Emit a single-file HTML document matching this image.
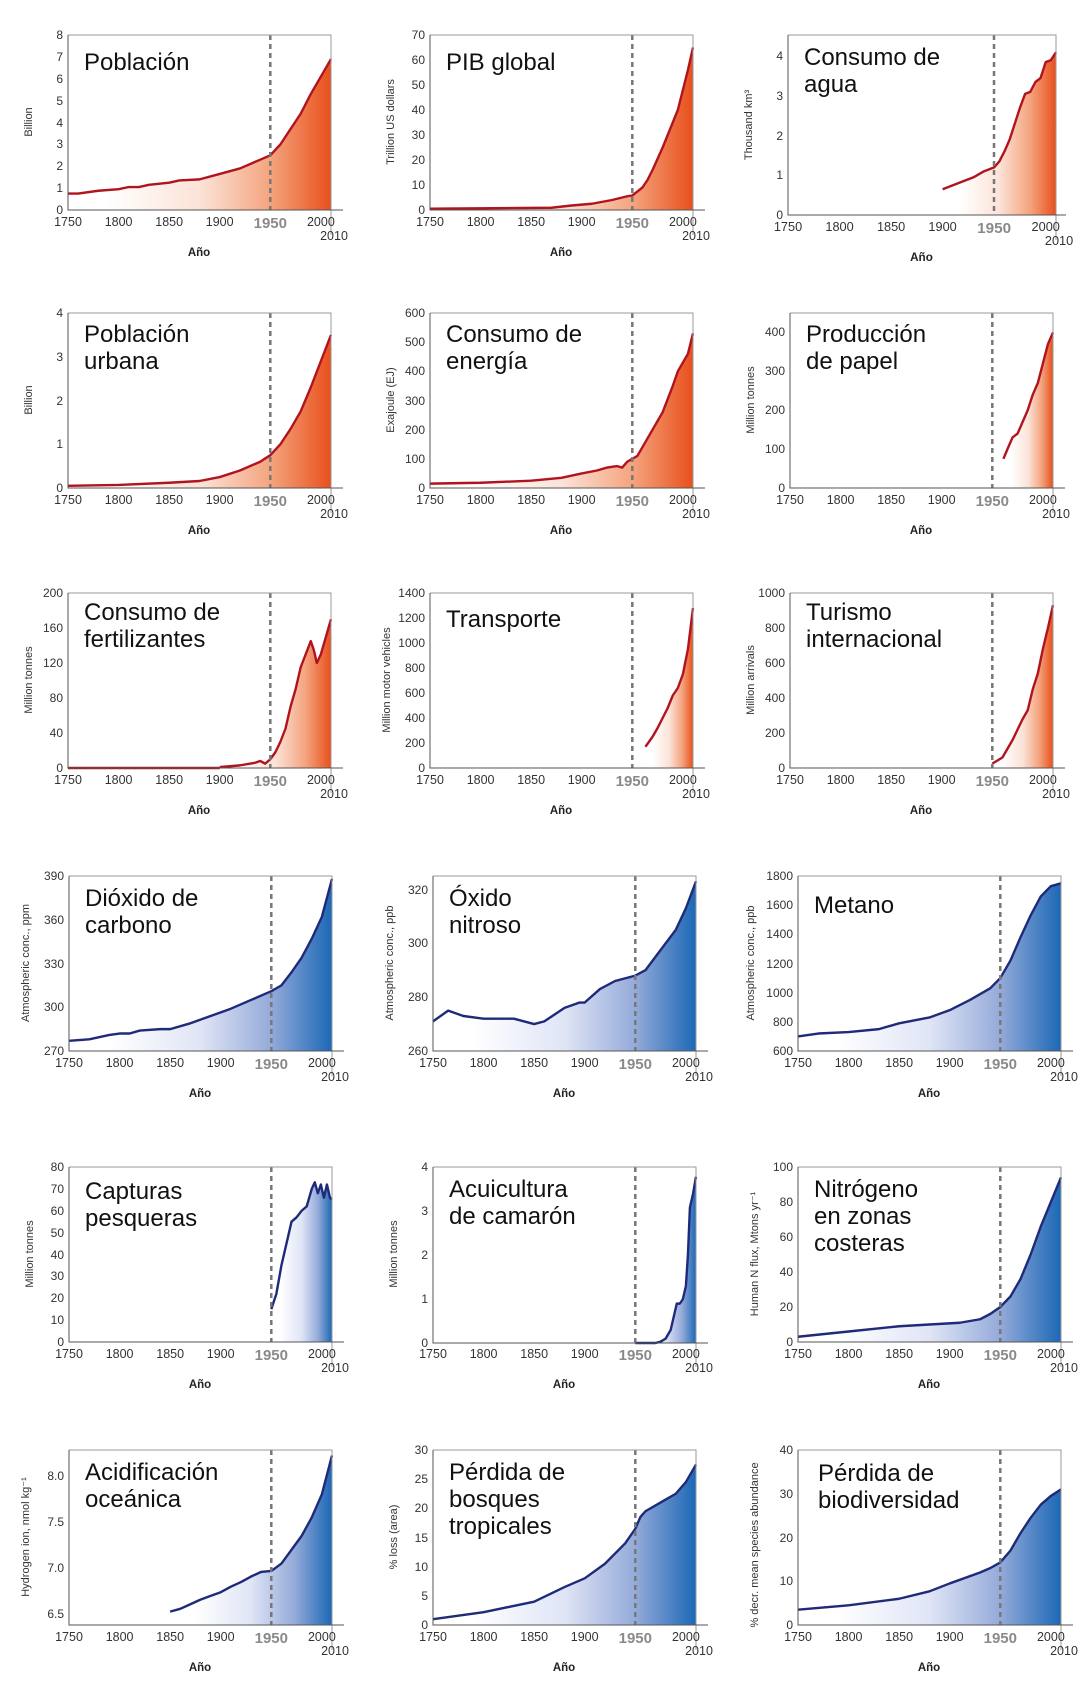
<!DOCTYPE html>
<html><head><meta charset="utf-8"><style>
html,body{margin:0;padding:0;background:#fff}
svg{display:block;font-family:"Liberation Sans",sans-serif}
.yl{font-size:12px;fill:#333;text-anchor:end}
.xl{font-size:12.5px;fill:#333;text-anchor:middle}
.x50{font-size:15px;font-weight:bold;fill:#8a8a8a;text-anchor:middle}
.ano{font-size:11.5px;font-weight:bold;fill:#222;text-anchor:middle}
.yt{font-size:11px;fill:#333;text-anchor:middle}
.ti{font-size:24px;fill:#111}
.lr{fill:none;stroke:#b0141e;stroke-width:2.4;vector-effect:non-scaling-stroke;stroke-linejoin:round}
.lb{fill:none;stroke:#1f2a78;stroke-width:2.4;vector-effect:non-scaling-stroke;stroke-linejoin:round}
.dash{stroke:#777;stroke-width:2.5;stroke-dasharray:5,4}
.ax{fill:none;stroke:#555;stroke-width:1}
.fr{fill:none;stroke:#999;stroke-width:1}
</style></head><body>
<svg width="1091" height="1690" viewBox="0 0 1091 1690" xmlns="http://www.w3.org/2000/svg">
<defs>
<linearGradient id="r" x1="0" y1="0" x2="1" y2="0">
<stop offset="0.15" stop-color="#fff"/><stop offset="0.5" stop-color="#fbe3d8"/><stop offset="0.77" stop-color="#f4a47e"/><stop offset="1" stop-color="#e8501c"/></linearGradient>
<linearGradient id="b" x1="0" y1="0" x2="1" y2="0">
<stop offset="0.15" stop-color="#fff"/><stop offset="0.5" stop-color="#e0e5f6"/><stop offset="0.77" stop-color="#94aad9"/><stop offset="1" stop-color="#1c68b6"/></linearGradient>
<g id="xt">
<text class="xl" x="0" y="191">1750</text><text class="xl" x="50.6" y="191">1800</text><text class="xl" x="101.2" y="191">1850</text><text class="xl" x="151.7" y="191">1900</text><text class="x50" x="202.3" y="193">1950</text><text class="xl" x="252.9" y="191">2000</text><text class="xl" x="266" y="205">2010</text><text class="ano" x="131" y="221">Año</text>
</g>
</defs>

<!-- P1 Poblacion -->
<g transform="translate(68,35)">
<g transform="translate(0,175) scale(1.0115,-21.875)">
<path fill="url(#r)" d="M0,0 L0,.75 10,.75 30,.88 50,.95 60,1.05 70,1.05 80,1.15 100,1.25 110,1.35 130,1.4 150,1.65 170,1.9 190,2.3 200,2.5 210,3 220,3.7 230,4.4 240,5.3 260,6.9 L260,0Z"/>
<path class="lr" d="M0,.75 10,.75 30,.88 50,.95 60,1.05 70,1.05 80,1.15 100,1.25 110,1.35 130,1.4 150,1.65 170,1.9 190,2.3 200,2.5 210,3 220,3.7 230,4.4 240,5.3 260,6.9"/></g>
<line class="dash" x1="202.3" y1="0" x2="202.3" y2="175"/>
<path class="fr" d="M0,0H263V200"/><path class="ax" d="M0,0V175H275"/>
<text class="yl" x="-5" y="179">0</text><text class="yl" x="-5" y="157">1</text><text class="yl" x="-5" y="135">2</text><text class="yl" x="-5" y="113">3</text><text class="yl" x="-5" y="92">4</text><text class="yl" x="-5" y="70">5</text><text class="yl" x="-5" y="48">6</text><text class="yl" x="-5" y="26">7</text><text class="yl" x="-5" y="4">8</text>
<use href="#xt"/>
<text class="yt" transform="translate(-36,87) rotate(-90)">Billion</text>
<text class="ti" x="16" y="35">Población</text>
</g>

<!-- P2 PIB -->
<g transform="translate(430,35)">
<g transform="translate(0,175) scale(1.0115,-2.5)">
<path fill="url(#r)" d="M0,0 L0,.5 120,.9 140,1.8 160,2.5 180,4 195,5.5 200,5.8 210,9 215,12 220,16 230,25 240,35 245,40 250,48 255,56 260,65 L260,0Z"/>
<path class="lr" d="M0,.5 120,.9 140,1.8 160,2.5 180,4 195,5.5 200,5.8 210,9 215,12 220,16 230,25 240,35 245,40 250,48 255,56 260,65"/></g>
<line class="dash" x1="202.3" y1="0" x2="202.3" y2="175"/>
<path class="fr" d="M0,0H263V200"/><path class="ax" d="M0,0V175H275"/>
<text class="yl" x="-5" y="179">0</text><text class="yl" x="-5" y="154">10</text><text class="yl" x="-5" y="129">20</text><text class="yl" x="-5" y="104">30</text><text class="yl" x="-5" y="79">40</text><text class="yl" x="-5" y="54">50</text><text class="yl" x="-5" y="29">60</text><text class="yl" x="-5" y="4">70</text>
<use href="#xt"/>
<text class="yt" transform="translate(-36,87) rotate(-90)">Trillion US dollars</text>
<text class="ti" x="16" y="35">PIB global</text>
</g>

<!-- P3 Agua -->
<g transform="translate(788,35)">
<g transform="translate(0,180) scale(1.0308,-39.7)">
<path fill="url(#r)" d="M150,0 L150,.65 160,.75 170,.85 180,.95 190,1.1 200,1.2 205,1.35 210,1.6 215,1.9 220,2.3 225,2.7 230,3.05 235,3.1 240,3.35 245,3.45 250,3.85 255,3.9 260,4.1 L260,0Z"/>
<path class="lr" d="M150,.65 160,.75 170,.85 180,.95 190,1.1 200,1.2 205,1.35 210,1.6 215,1.9 220,2.3 225,2.7 230,3.05 235,3.1 240,3.35 245,3.45 250,3.85 255,3.9 260,4.1"/></g>
<line class="dash" x1="206" y1="0" x2="206" y2="180"/>
<path class="fr" d="M0,0H268V205"/><path class="ax" d="M0,0V180H278"/>
<text class="yl" x="-5" y="184">0</text><text class="yl" x="-5" y="144">1</text><text class="yl" x="-5" y="105">2</text><text class="yl" x="-5" y="65">3</text><text class="yl" x="-5" y="25">4</text>
<g transform="scale(1.019,1) translate(0,5)"><use href="#xt"/></g>
<text class="yt" transform="translate(-36,90) rotate(-90)">Thousand km³</text>
<text class="ti" x="16" y="30">Consumo de</text><text class="ti" x="16" y="57">agua</text>
</g>

<!-- P4 Urbana -->
<g transform="translate(68,313)">
<g transform="translate(0,175) scale(1.0115,-43.75)">
<path fill="url(#r)" d="M0,0 L0,.05 50,.07 100,.12 130,.16 150,.25 170,.4 190,.6 200,.75 210,1 220,1.35 230,1.75 240,2.3 250,2.9 260,3.5 L260,0Z"/>
<path class="lr" d="M0,.05 50,.07 100,.12 130,.16 150,.25 170,.4 190,.6 200,.75 210,1 220,1.35 230,1.75 240,2.3 250,2.9 260,3.5"/></g>
<line class="dash" x1="202.3" y1="0" x2="202.3" y2="175"/>
<path class="fr" d="M0,0H263V200"/><path class="ax" d="M0,0V175H275"/>
<text class="yl" x="-5" y="179">0</text><text class="yl" x="-5" y="135">1</text><text class="yl" x="-5" y="92">2</text><text class="yl" x="-5" y="48">3</text><text class="yl" x="-5" y="4">4</text>
<use href="#xt"/>
<text class="yt" transform="translate(-36,87) rotate(-90)">Billion</text>
<text class="ti" x="16" y="29">Población</text><text class="ti" x="16" y="56">urbana</text>
</g>

<!-- P5 Energia -->
<g transform="translate(430,313)">
<g transform="translate(0,175) scale(1.0115,-0.29167)">
<path fill="url(#r)" d="M0,0 L0,15 50,18 100,25 130,35 150,50 165,60 175,70 185,75 190,70 195,90 200,100 205,110 210,140 220,200 230,260 240,350 245,400 250,430 255,460 260,530 L260,0Z"/>
<path class="lr" d="M0,15 50,18 100,25 130,35 150,50 165,60 175,70 185,75 190,70 195,90 200,100 205,110 210,140 220,200 230,260 240,350 245,400 250,430 255,460 260,530"/></g>
<line class="dash" x1="202.3" y1="0" x2="202.3" y2="175"/>
<path class="fr" d="M0,0H263V200"/><path class="ax" d="M0,0V175H275"/>
<text class="yl" x="-5" y="179">0</text><text class="yl" x="-5" y="150">100</text><text class="yl" x="-5" y="121">200</text><text class="yl" x="-5" y="92">300</text><text class="yl" x="-5" y="62">400</text><text class="yl" x="-5" y="33">500</text><text class="yl" x="-5" y="4">600</text>
<use href="#xt"/>
<text class="yt" transform="translate(-36,87) rotate(-90)">Exajoule (EJ)</text>
<text class="ti" x="16" y="29">Consumo de</text><text class="ti" x="16" y="56">energía</text>
</g>

<!-- P6 Papel -->
<g transform="translate(790,313)">
<g transform="translate(0,175) scale(1.0115,-0.38889)">
<path fill="url(#r)" d="M211,0 L211,75 215,100 220,130 225,140 230,170 235,200 240,240 245,270 250,320 255,370 260,400 L260,0Z"/>
<path class="lr" d="M211,75 215,100 220,130 225,140 230,170 235,200 240,240 245,270 250,320 255,370 260,400"/></g>
<line class="dash" x1="202.3" y1="0" x2="202.3" y2="175"/>
<path class="fr" d="M0,0H263V200"/><path class="ax" d="M0,0V175H275"/>
<text class="yl" x="-5" y="179">0</text><text class="yl" x="-5" y="140">100</text><text class="yl" x="-5" y="101">200</text><text class="yl" x="-5" y="62">300</text><text class="yl" x="-5" y="23">400</text>
<use href="#xt"/>
<text class="yt" transform="translate(-36,87) rotate(-90)">Million tonnes</text>
<text class="ti" x="16" y="29">Producción</text><text class="ti" x="16" y="56">de papel</text>
</g>

<!-- P7 Fertilizantes -->
<g transform="translate(68,593)">
<g transform="translate(0,175) scale(1.0115,-0.875)">
<path fill="url(#r)" d="M150,0 L150,1 170,3 185,6 190,8 195,5 200,10 205,18 210,30 215,45 220,70 225,90 230,115 235,130 240,145 243,135 246,120 250,130 255,150 260,170 L260,0Z"/>
<path class="lr" d="M150,1 170,3 185,6 190,8 195,5 200,10 205,18 210,30 215,45 220,70 225,90 230,115 235,130 240,145 243,135 246,120 250,130 255,150 260,170"/>
<path class="lr" d="M0,0 150,0"/></g>
<line class="dash" x1="202.3" y1="0" x2="202.3" y2="175"/>
<path class="fr" d="M0,0H263V200"/><path class="ax" d="M0,0V175H275"/>
<text class="yl" x="-5" y="179">0</text><text class="yl" x="-5" y="144">40</text><text class="yl" x="-5" y="109">80</text><text class="yl" x="-5" y="74">120</text><text class="yl" x="-5" y="39">160</text><text class="yl" x="-5" y="4">200</text>
<use href="#xt"/>
<text class="yt" transform="translate(-36,87) rotate(-90)">Million tonnes</text>
<text class="ti" x="16" y="27">Consumo de</text><text class="ti" x="16" y="54">fertilizantes</text>
</g>

<!-- P8 Transporte -->
<g transform="translate(430,593)">
<g transform="translate(0,175) scale(1.0115,-0.125)">
<path fill="url(#r)" d="M213,0 L213,170 220,250 225,320 230,400 235,480 240,580 245,640 250,750 255,950 260,1280 L260,0Z"/>
<path class="lr" d="M213,170 220,250 225,320 230,400 235,480 240,580 245,640 250,750 255,950 260,1280"/></g>
<line class="dash" x1="202.3" y1="0" x2="202.3" y2="175"/>
<path class="fr" d="M0,0H263V200"/><path class="ax" d="M0,0V175H275"/>
<text class="yl" x="-5" y="179">0</text><text class="yl" x="-5" y="154">200</text><text class="yl" x="-5" y="129">400</text><text class="yl" x="-5" y="104">600</text><text class="yl" x="-5" y="79">800</text><text class="yl" x="-5" y="54">1000</text><text class="yl" x="-5" y="29">1200</text><text class="yl" x="-5" y="4">1400</text>
<use href="#xt"/>
<text class="yt" transform="translate(-40,87) rotate(-90)">Million motor vehicles</text>
<text class="ti" x="16" y="34">Transporte</text>
</g>

<!-- P9 Turismo -->
<g transform="translate(790,593)">
<g transform="translate(0,175) scale(1.0115,-0.175)">
<path fill="url(#r)" d="M200,0 L200,25 210,60 220,160 230,280 235,330 240,450 245,540 250,680 255,800 260,930 L260,0Z"/>
<path class="lr" d="M200,25 210,60 220,160 230,280 235,330 240,450 245,540 250,680 255,800 260,930"/></g>
<line class="dash" x1="202.3" y1="0" x2="202.3" y2="175"/>
<path class="fr" d="M0,0H263V200"/><path class="ax" d="M0,0V175H275"/>
<text class="yl" x="-5" y="179">0</text><text class="yl" x="-5" y="144">200</text><text class="yl" x="-5" y="109">400</text><text class="yl" x="-5" y="74">600</text><text class="yl" x="-5" y="39">800</text><text class="yl" x="-5" y="4">1000</text>
<use href="#xt"/>
<text class="yt" transform="translate(-36,87) rotate(-90)">Million arrivals</text>
<text class="ti" x="16" y="27">Turismo</text><text class="ti" x="16" y="54">internacional</text>
</g>

<!-- P10 CO2 -->
<g transform="translate(69,876)">
<g transform="translate(0,175) scale(1.0115,-1.4583)">
<path fill="url(#b)" d="M0,0 L0,7 20,8 40,11 50,12 60,12 70,14 90,15 100,15 120,19 140,24 160,29 180,35 200,41 210,45 220,54 230,64 240,77 250,92 260,118 L260,0Z"/>
<path class="lb" d="M0,7 20,8 40,11 50,12 60,12 70,14 90,15 100,15 120,19 140,24 160,29 180,35 200,41 210,45 220,54 230,64 240,77 250,92 260,118"/></g>
<line class="dash" x1="202.3" y1="0" x2="202.3" y2="175"/>
<path class="fr" d="M0,0H263V200"/><path class="ax" d="M0,0V175H275"/>
<text class="yl" x="-5" y="179">270</text><text class="yl" x="-5" y="135">300</text><text class="yl" x="-5" y="92">330</text><text class="yl" x="-5" y="48">360</text><text class="yl" x="-5" y="4">390</text>
<use href="#xt"/>
<text class="yt" transform="translate(-40,87) rotate(-90)">Atmospheric conc., ppm</text>
<text class="ti" x="16" y="30">Dióxido de</text><text class="ti" x="16" y="57">carbono</text>
</g>

<!-- P11 N2O -->
<g transform="translate(433,876)">
<g transform="translate(0,175) scale(1.0115,-2.6923)">
<path fill="url(#b)" d="M0,0 L0,11 15,15 30,13 50,12 80,12 100,10 110,11 130,16 145,18 150,18 165,23 180,26 200,28 210,30 220,35 240,45 250,53 260,63 L260,0Z"/>
<path class="lb" d="M0,11 15,15 30,13 50,12 80,12 100,10 110,11 130,16 145,18 150,18 165,23 180,26 200,28 210,30 220,35 240,45 250,53 260,63"/></g>
<line class="dash" x1="202.3" y1="0" x2="202.3" y2="175"/>
<path class="fr" d="M0,0H263V200"/><path class="ax" d="M0,0V175H275"/>
<text class="yl" x="-5" y="179">260</text><text class="yl" x="-5" y="125">280</text><text class="yl" x="-5" y="71">300</text><text class="yl" x="-5" y="18">320</text>
<use href="#xt"/>
<text class="yt" transform="translate(-40,87) rotate(-90)">Atmospheric conc., ppb</text>
<text class="ti" x="16" y="30">Óxido</text><text class="ti" x="16" y="57">nitroso</text>
</g>

<!-- P12 Metano -->
<g transform="translate(798,876)">
<g transform="translate(0,175) scale(1.0115,-0.14583)">
<path fill="url(#b)" d="M0,0 L0,100 20,120 50,130 80,150 100,190 130,230 150,280 170,350 190,430 200,500 210,620 220,780 230,930 240,1060 250,1130 260,1150 L260,0Z"/>
<path class="lb" d="M0,100 20,120 50,130 80,150 100,190 130,230 150,280 170,350 190,430 200,500 210,620 220,780 230,930 240,1060 250,1130 260,1150"/></g>
<line class="dash" x1="202.3" y1="0" x2="202.3" y2="175"/>
<path class="fr" d="M0,0H263V200"/><path class="ax" d="M0,0V175H275"/>
<text class="yl" x="-5" y="179">600</text><text class="yl" x="-5" y="150">800</text><text class="yl" x="-5" y="121">1000</text><text class="yl" x="-5" y="92">1200</text><text class="yl" x="-5" y="62">1400</text><text class="yl" x="-5" y="33">1600</text><text class="yl" x="-5" y="4">1800</text>
<use href="#xt"/>
<text class="yt" transform="translate(-44,87) rotate(-90)">Atmospheric conc., ppb</text>
<text class="ti" x="16" y="37">Metano</text>
</g>

<!-- P13 Capturas -->
<g transform="translate(69,1167)">
<g transform="translate(0,175) scale(1.0115,-2.1875)">
<path fill="url(#b)" d="M200,0 L200,15 205,22 210,35 215,45 220,55 225,57 230,60 235,62 240,70 243,73 246,68 249,72 252,66 255,72 258,66 260,65 L260,0Z"/>
<path class="lb" d="M200,15 205,22 210,35 215,45 220,55 225,57 230,60 235,62 240,70 243,73 246,68 249,72 252,66 255,72 258,66 260,65"/></g>
<line class="dash" x1="202.3" y1="0" x2="202.3" y2="175"/>
<path class="fr" d="M0,0H263V200"/><path class="ax" d="M0,0V175H275"/>
<text class="yl" x="-5" y="179">0</text><text class="yl" x="-5" y="157">10</text><text class="yl" x="-5" y="135">20</text><text class="yl" x="-5" y="113">30</text><text class="yl" x="-5" y="92">40</text><text class="yl" x="-5" y="70">50</text><text class="yl" x="-5" y="48">60</text><text class="yl" x="-5" y="26">70</text><text class="yl" x="-5" y="4">80</text>
<use href="#xt"/>
<text class="yt" transform="translate(-36,87) rotate(-90)">Million tonnes</text>
<text class="ti" x="16" y="32">Capturas</text><text class="ti" x="16" y="59">pesqueras</text>
</g>

<!-- P14 Camaron -->
<g transform="translate(433,1167)">
<g transform="translate(0,176) scale(1.0115,-43.75)">
<path fill="url(#b)" d="M200,0 L200,0 220,0 225,.03 230,.1 235,.3 238,.6 241,.9 244,.9 247,1 250,1.3 252,2 254,3.1 257,3.4 260,3.8 L260,0Z"/>
<path class="lb" d="M200,0 220,0 225,.03 230,.1 235,.3 238,.6 241,.9 244,.9 247,1 250,1.3 252,2 254,3.1 257,3.4 260,3.8"/></g>
<line class="dash" x1="202.3" y1="0" x2="202.3" y2="176"/>
<path class="fr" d="M0,0H263V200"/><path class="ax" d="M0,0V176H275"/>
<text class="yl" x="-5" y="180">0</text><text class="yl" x="-5" y="136">1</text><text class="yl" x="-5" y="92">2</text><text class="yl" x="-5" y="48">3</text><text class="yl" x="-5" y="4">4</text>
<use href="#xt"/>
<text class="yt" transform="translate(-36,87) rotate(-90)">Million tonnes</text>
<text class="ti" x="16" y="30">Acuicultura</text><text class="ti" x="16" y="57">de camarón</text>
</g>

<!-- P15 Nitrogeno -->
<g transform="translate(798,1167)">
<g transform="translate(0,175) scale(1.0115,-1.75)">
<path fill="url(#b)" d="M0,0 L0,3 50,6 100,9 130,10 160,11 180,13 190,16 200,20 210,26 220,36 230,50 240,66 250,80 260,94 L260,0Z"/>
<path class="lb" d="M0,3 50,6 100,9 130,10 160,11 180,13 190,16 200,20 210,26 220,36 230,50 240,66 250,80 260,94"/></g>
<line class="dash" x1="202.3" y1="0" x2="202.3" y2="175"/>
<path class="fr" d="M0,0H263V200"/><path class="ax" d="M0,0V175H275"/>
<text class="yl" x="-5" y="179">0</text><text class="yl" x="-5" y="144">20</text><text class="yl" x="-5" y="109">40</text><text class="yl" x="-5" y="74">60</text><text class="yl" x="-5" y="39">80</text><text class="yl" x="-5" y="4">100</text>
<use href="#xt"/>
<text class="yt" transform="translate(-40,87) rotate(-90)">Human N flux, Mtons yr⁻¹</text>
<text class="ti" x="16" y="30">Nitrógeno</text><text class="ti" x="16" y="57">en zonas</text><text class="ti" x="16" y="84">costeras</text>
</g>

<!-- P16 Acidificacion -->
<g transform="translate(69,1450)">
<g transform="translate(0,175) scale(1.0115,-92.35)">
<path fill="url(#b)" d="M100,0 L100,.145 110,.175 120,.225 130,.275 140,.315 150,.355 160,.415 170,.465 180,.525 190,.575 200,.585 210,.665 220,.815 230,.965 240,1.165 250,1.415 260,1.835 L260,0Z"/>
<path class="lb" d="M100,.145 110,.175 120,.225 130,.275 140,.315 150,.355 160,.415 170,.465 180,.525 190,.575 200,.585 210,.665 220,.815 230,.965 240,1.165 250,1.415 260,1.835"/></g>
<line class="dash" x1="202.3" y1="0" x2="202.3" y2="175"/>
<path class="fr" d="M0,0H263V200"/><path class="ax" d="M0,0V175H275"/>
<text class="yl" x="-5" y="168">6.5</text><text class="yl" x="-5" y="122">7.0</text><text class="yl" x="-5" y="76">7.5</text><text class="yl" x="-5" y="30">8.0</text>
<use href="#xt"/>
<text class="yt" transform="translate(-40,87) rotate(-90)">Hydrogen ion, nmol kg⁻¹</text>
<text class="ti" x="16" y="30">Acidificación</text><text class="ti" x="16" y="57">oceánica</text>
</g>

<!-- P17 Bosques -->
<g transform="translate(433,1450)">
<g transform="translate(0,175) scale(1.0115,-5.8333)">
<path fill="url(#b)" d="M0,0 L0,1 50,2.2 100,4 130,6.5 150,8 170,10.5 190,14 200,16.5 205,18.5 210,19.5 220,20.5 230,21.5 240,22.5 250,24.5 260,27.5 L260,0Z"/>
<path class="lb" d="M0,1 50,2.2 100,4 130,6.5 150,8 170,10.5 190,14 200,16.5 205,18.5 210,19.5 220,20.5 230,21.5 240,22.5 250,24.5 260,27.5"/></g>
<line class="dash" x1="202.3" y1="0" x2="202.3" y2="175"/>
<path class="fr" d="M0,0H263V200"/><path class="ax" d="M0,0V175H275"/>
<text class="yl" x="-5" y="179">0</text><text class="yl" x="-5" y="150">5</text><text class="yl" x="-5" y="121">10</text><text class="yl" x="-5" y="92">15</text><text class="yl" x="-5" y="62">20</text><text class="yl" x="-5" y="33">25</text><text class="yl" x="-5" y="4">30</text>
<use href="#xt"/>
<text class="yt" transform="translate(-36,87) rotate(-90)">% loss (area)</text>
<text class="ti" x="16" y="30">Pérdida de</text><text class="ti" x="16" y="57">bosques</text><text class="ti" x="16" y="84">tropicales</text>
</g>

<!-- P18 Biodiversidad -->
<g transform="translate(798,1450)">
<g transform="translate(0,175) scale(1.0115,-4.375)">
<path fill="url(#b)" d="M0,0 L0,3.5 50,4.5 100,6 130,7.7 150,9.5 180,12 190,13 200,14.3 210,17 220,21 230,24.5 240,27.5 250,29.5 260,31 L260,0Z"/>
<path class="lb" d="M0,3.5 50,4.5 100,6 130,7.7 150,9.5 180,12 190,13 200,14.3 210,17 220,21 230,24.5 240,27.5 250,29.5 260,31"/></g>
<line class="dash" x1="202.3" y1="0" x2="202.3" y2="175"/>
<path class="fr" d="M0,0H263V200"/><path class="ax" d="M0,0V175H275"/>
<text class="yl" x="-5" y="179">0</text><text class="yl" x="-5" y="135">10</text><text class="yl" x="-5" y="92">20</text><text class="yl" x="-5" y="48">30</text><text class="yl" x="-5" y="4">40</text>
<use href="#xt"/>
<text class="yt" transform="translate(-40,95) rotate(-90)">% decr. mean species abundance</text>
<text class="ti" x="20" y="31">Pérdida de</text><text class="ti" x="20" y="58">biodiversidad</text>
</g>
</svg>
</body></html>
